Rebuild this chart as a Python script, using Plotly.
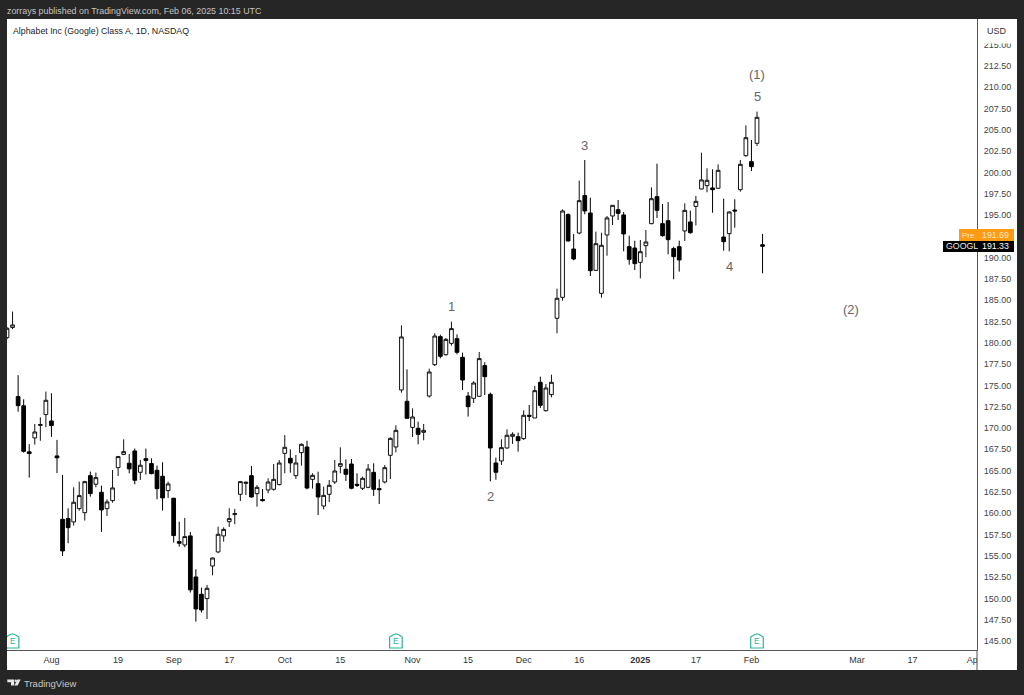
import pandas as pd
import plotly.graph_objects as go

holidays = ["2024-09-02", "2024-11-28", "2024-12-25", "2025-01-01", "2025-01-09", "2025-01-20", "2025-02-17"]
all_days = [d.strftime("%Y-%m-%d") for d in pd.bdate_range("2024-07-22", "2025-04-03") if d.strftime("%Y-%m-%d") not in holidays]

opens = [180.6,181.8,173.68,172.6,167.2,168.83,170.3,171.57,170.82,166.72,
         159.28,159.36,158.97,160.53,160.06,164.4,163.4,162.45,160.53,161.47,
         165.35,166.9,165.86,167.3,164.8,166.4,165.82,165.03,164.33,162.65,
         161.75,156.66,156.27,157.33,152.51,150.48,149.97,153.8,155.45,157.33,
         159,159.83,162.21,163.5,164.4,162.29,161.6,162.72,162.8,163.35,
         167.02,166.44,164.4,167.1,167.77,163.97,163.46,160.84,162.21,163.66,
         165.5,165.15,165.77,163.39,162.92,163.03,164.79,162.88,163.66,166.79,
         167.77,174.46,173.13,170.07,169.96,169.49,173.75,177.43,180.72,178.6,
         179.93,180.48,178.29,173.75,173.48,173.72,177.32,173.95,165.89,166.13,
         167.65,169.02,168.98,168.75,171.49,171.17,175.36,172.03,173.91,182.87,
         185.33,195.04,191.0,192.88,197.27,195.23,188.5,185.8,192.65,194.88,
         195.62,195,191.28,191.12,189.44,191.4,193.98,197.15,193.98,194.33,
         191.05,191.28,193.12,194.18,196.01,198.05,198.44,198.17,198.13,192.41,
         192.81,195.58,197.97,201.96,201.26,203.41,191.5]
highs = [181.85,183.66,176.2,173.37,168.1,170.47,171.25,174.27,174.07,168.6,
         164.49,160.57,163.04,163.7,163.8,164.88,164.76,163.23,161.63,165.07,
         166.72,168.67,166.95,167.58,166.25,167.58,166.44,165.58,165.97,163.7,
         161.8,159,159.44,157.8,153.41,151.26,151.58,154.8,158.42,158.34,
         160.57,160.5,163.78,163.7,165.54,163.3,162.84,164.09,165.77,166.24,
         169.17,167.49,166.83,168.2,168.51,164.68,164.87,163.11,163.89,166.24,
         167.73,166.32,166.36,164.68,164.28,165.77,165.85,163.97,165.65,168.9,
         170.31,182.05,176.88,172.3,170.74,170.47,176.96,181.11,180.95,180.56,
         182.48,180.99,178.84,174.22,175.48,178.92,177.71,174.15,166.52,168.67,
         169.84,169.49,169.45,172.07,172.7,174.93,176.02,175.16,176.26,186.35,
         195.66,195.19,192.77,199.03,201.45,197.03,193.04,192.92,194.88,196.13,
         196.76,195.35,192.57,191.98,192.06,193.24,198.24,201.02,196.29,196.52,
         191.28,191.98,196.37,195.51,197.23,202.31,200.47,200.36,200.94,196.91,
         195.43,196.84,201.45,205.52,203.8,207.13,192.77]
lows = [180.4,181.6,171.9,167.1,164.17,168.05,168.5,170.08,168.95,164.7,
        154.98,156.47,158.54,160.3,159.13,161.94,163.04,157.8,159.67,161.24,
        164.37,166.8,164.68,163.39,163.9,164.53,164.56,161.63,160.3,161.79,
        156.54,156.07,156,150.68,147.27,148.33,147.58,152.71,155.3,156.66,
        158.38,158.7,161.43,162.13,161.82,160.76,161.35,162.33,162.64,163.27,
        164.68,164.75,164.01,165.58,162.8,162.88,159.79,160.45,161.31,163.42,
        164.68,163.78,162.8,163.07,162.72,162.92,162.02,161.08,163.5,164.01,
        167.14,174.14,171.1,168.94,168.08,168.55,173.56,177.27,178.17,178.49,
        179.66,178.64,174.46,171.33,172.93,173.64,173.87,163.74,163.93,165.66,
        167.57,168.12,167.22,168.59,170.82,171.17,172.35,171.92,173.6,181.11,
        184.94,191.87,189.68,192.73,195.08,187.84,188.42,185.29,190.22,193.82,
        194.41,190.73,189.17,188.54,187.56,190.03,193.9,194.65,192.45,190.38,
        187.45,188.35,191.95,192.81,193.78,198.01,197.66,195.27,198.09,190.81,
        190.73,193.51,197.74,201.84,200.16,203.1,188.15]
closes = [181.7,182.09,172.62,167.26,167.0,169.53,170.4,173.25,170.28,166.5,
          155.57,158.3,161.28,162.06,163.7,162.3,164.17,160.38,161.32,162.96,
          166.64,167.22,165.2,163.86,165.62,166.17,164.64,162.88,161.79,163.43,
          157.37,156.47,157.25,151,148.76,148.64,151.18,154.74,157.52,158.1,
          159.36,159.95,163.7,163.62,161.9,163.03,161.47,163.66,163.97,165.89,
          167.73,165.89,165.89,168.08,162.95,164.44,161.9,162.09,163.27,164.95,
          165.81,164.56,162.92,163.27,164.09,165.18,162.8,162.76,165.34,168.78,
          169.72,180.68,171.13,171.29,169.25,169.72,176.57,180.79,178.41,180.4,
          181.66,178.88,175.63,172.5,175.28,178.14,176.02,167.65,164.8,167.69,
          169.14,169.26,168.51,171.49,171.37,174.38,172.66,174.69,175.36,185.22,
          195.47,191.95,189.83,196.68,195.47,188.46,191.63,191.44,194.65,196.13,
          195.19,192.77,189.79,189.29,190.69,191.83,196.91,195.54,192.57,192.1,
          190.11,189.72,195.54,192.92,196.6,199.11,199.07,197.97,200.24,191.87,
          195.35,195.47,200.94,204.07,200.67,206.46,191.33]

x_tick_dates = ["2024-08-01","2024-08-19","2024-09-03","2024-09-17","2024-10-01","2024-10-15",
                "2024-11-01","2024-11-15","2024-12-02","2024-12-16","2025-01-02","2025-01-17",
                "2025-02-03","2025-03-03","2025-03-17","2025-04-01"]
x_tick_labels = ["Aug","19","Sep","17","Oct","15","Nov","15","Dec","16","<b>2025</b>","17","Feb","Mar","17","Apr"]
y_ticks = [145 + 2.5 * i for i in range(29) if 145 + 2.5 * i != 192.5]

wave_labels = ["1", "2", "3", "4", "5", "(1)", "(2)"]
wave_dates = ["2024-11-12", "2024-11-21", "2024-12-17", "2025-01-28", "2025-02-04", "2025-02-04", "2025-02-28"]
wave_prices = [184.3, 162.0, 203.2, 189.0, 208.85, 211.45, 183.85]
earnings_dates = ["2024-07-23", "2024-10-29", "2025-02-04"]

FONT = "Liberation Sans"
L, R, T, B = 7, 977, 19, 650
fx = lambda p: (p - L) / (R - L)
fy = lambda p: (B - p) / (B - T)

def poly(points):
    return "M" + " L".join(f"{fx(a):.5f},{fy(b):.5f}" for a, b in points) + " Z"

def box(x0, y0, x1, y1, color, layer="above"):
    return dict(type="rect", xref="paper", yref="paper", x0=fx(x0), x1=fx(x1), y0=fy(y0), y1=fy(y1),
                fillcolor=color, line_width=0, layer=layer)

def text(px, py, s, size, color, anchor="left"):
    return dict(xref="paper", yref="paper", x=fx(px), y=fy(py), text=s, showarrow=False, xanchor=anchor,
                yanchor="middle", font=dict(family=FONT, size=size, color=color), xshift=0, yshift=0,
                borderpad=0)

fig = go.Figure(go.Candlestick(
    x=all_days[:len(opens)], open=opens, high=highs, low=lows, close=closes,
    increasing=dict(line=dict(color="#111111", width=1), fillcolor="#ffffff"),
    decreasing=dict(line=dict(color="#000000", width=1), fillcolor="#000000"),
    whiskerwidth=0, showlegend=False, name="GOOGL",
))

shapes = [
    box(R, T, 1017, 670, "#ffffff", "below"),
    box(L, B, R, 670, "#ffffff", "below"),
    box(R + 0.5, B + 0.5, 1017, 670, "#ffffff"),
    box(R + 1, T, 1014, 43.5, "#ffffff"),
    dict(type="line", xref="paper", yref="paper", x0=fx(R), x1=fx(R), y0=fy(B), y1=fy(670),
         line=dict(color="#555555", width=1), layer="above"),
    box(959, 229, 1014, 241, "#ff9a14"),
    box(943, 241, 1014, 252, "#000000"),
    dict(type="path", xref="paper", yref="paper", line_width=0, fillcolor="#e8e8e8", layer="above",
         path=poly([(7.3, 679.5), (14.2, 679.5), (14.2, 685.5), (11, 685.5), (11, 682.3), (7.3, 682.3)])),
    dict(type="circle", xref="paper", yref="paper", x0=fx(14.6), x1=fx(17), y0=fy(679.5), y1=fy(682),
         line_width=0, fillcolor="#e8e8e8", layer="above"),
    dict(type="path", xref="paper", yref="paper", line_width=0, fillcolor="#e8e8e8", layer="above",
         path=poly([(17.4, 679.5), (20.6, 679.5), (17.6, 685.5), (14.4, 685.5)])),
]
for d in earnings_dates:
    shapes.append(dict(type="path", xref="x", yref="paper", xsizemode="pixel", ysizemode="pixel",
                       xanchor=d, yanchor=0, path="M-6.3,2 L-6.3,13 L-3.2,15 L0,16.2 L3.2,15 L6.3,13 L6.3,2 Z",
                       line=dict(color="#2bb39e", width=1.2), fillcolor="#ffffff", layer="above"))

annotations = [
    text(6, 11, "zorrays published on TradingView.com, Feb 06, 2025 10:15 UTC", 8.9, "#c4c4c4"),
    text(12, 30.5, "Alphabet Inc (Google) Class A, 1D, NASDAQ", 8.8, "#1c1c1c"),
    text(23, 683, "TradingView", 9.5, "#c8c8c8"),
    text(985.5, 30.5, "USD", 9, "#333333"),
    text(961, 235, "Pre", 8, "#ffe6c0"),
    text(1010, 235, "191.69", 8.8, "#ffe6c0", "right"),
    text(944.5, 246.5, "GOOGL", 8.8, "#e8e8e8"),
    text(1010, 246.5, "191.33", 8.8, "#ffffff", "right"),
]
for lab, d, p in zip(wave_labels, wave_dates, wave_prices):
    annotations.append(dict(x=d, y=p, xref="x", yref="y", text=lab, showarrow=False,
                            font=dict(family=FONT, size=13, color="#666666")))
for d in earnings_dates:
    annotations.append(dict(x=d, xref="x", y=0, yref="paper", yanchor="bottom", yshift=3, text="E", showarrow=False,
                            font=dict(family=FONT, size=8.5, color="#2bb39e"), borderpad=0))

fig.update_layout(
    width=1024, height=695, autosize=False,
    margin=dict(l=L, r=1024 - R, t=T, b=695 - B, pad=0),
    paper_bgcolor="#262626", plot_bgcolor="#ffffff",
    font=dict(family=FONT, size=9, color="#333333"),
    shapes=shapes, annotations=annotations, boxgap=0.33, boxgroupgap=0,
    xaxis=dict(type="category", categoryorder="array", categoryarray=all_days, range=[0, 174.6],
               rangeslider=dict(visible=False), tickmode="array", tickvals=x_tick_dates,
               ticktext=x_tick_labels, showgrid=False, zeroline=False, showline=True,
               linecolor="#555555", linewidth=1, ticks="", tickangle=0, ticklabelstandoff=1,
               tickfont=dict(family=FONT, size=9, color="#333333")),
    yaxis=dict(side="right", range=[143.94, 218.0], tickmode="array", tickvals=y_ticks,
               tickformat=".2f", showgrid=False, zeroline=False, showline=True,
               linecolor="#555555", linewidth=1, ticks="", ticklabelstandoff=4,
               tickfont=dict(family=FONT, size=9, color="#444444")),
)
fig.write_html("out.html", config=dict(displayModeBar=False),
               post_script="document.body.style.margin='0';document.body.style.overflow='hidden';")
